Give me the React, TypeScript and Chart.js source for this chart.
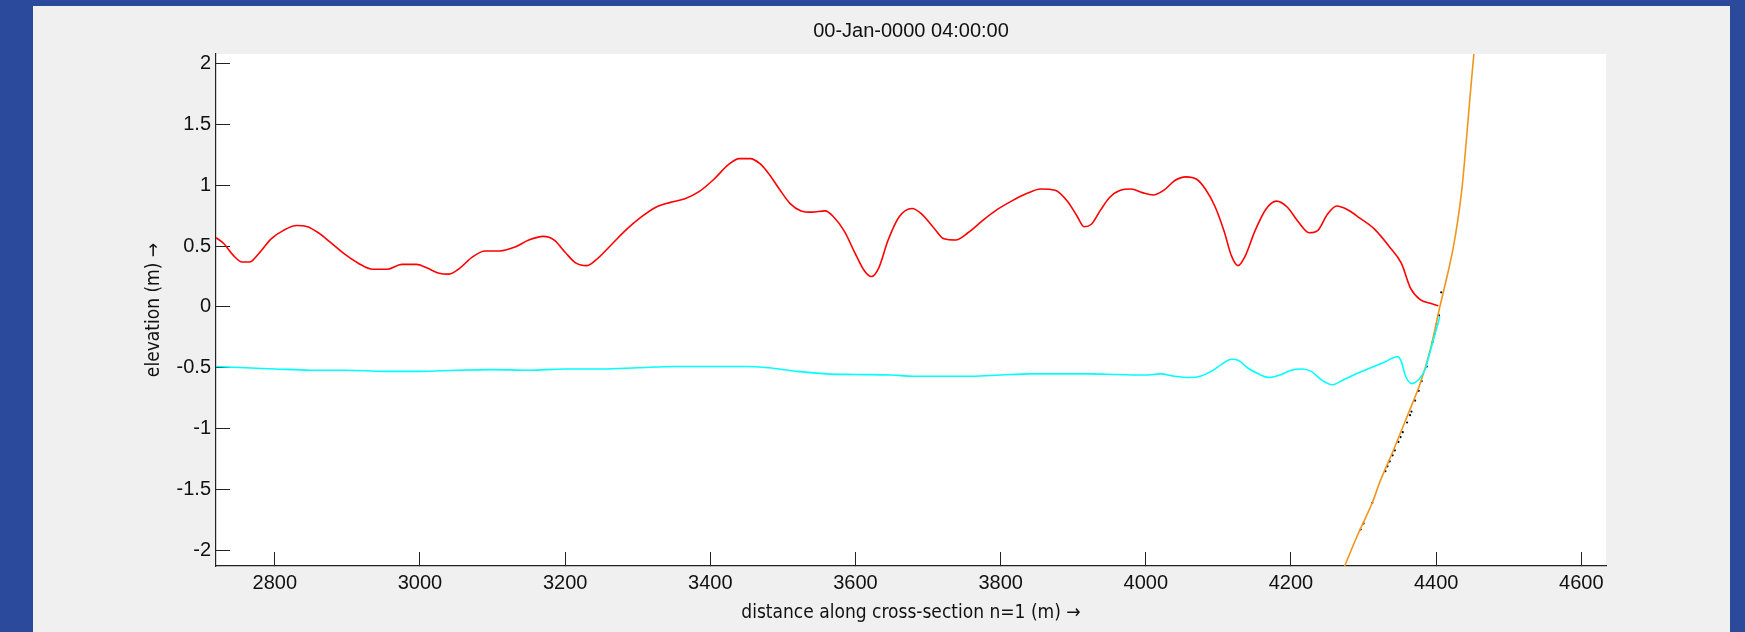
import React, { useEffect, useRef } from "react";
import { Chart, registerables } from "chart.js";

Chart.register(...registerables);

// ---------- data ----------
const TITLE = "00-Jan-0000 04:00:00";
const X_LABEL = "distance along cross-section n=1 (m) \u2192";
const Y_LABEL = "elevation (m) \u2192";

const X_TICKS = [2800, 3000, 3200, 3400, 3600, 3800, 4000, 4200, 4400, 4600];
const Y_TICKS = [-2, -1.5, -1, -0.5, 0, 0.5, 1, 1.5, 2];
const X_MIN = 2719;
const X_MAX = 4634;
const Y_MIN = -2.13;
const Y_MAX = 2.08;

// water level (red)
const RED_X = [
  2719, 2730, 2742, 2755, 2765, 2778, 2795, 2812, 2830, 2845, 2860, 2875, 2895, 2915, 2935, 2955,
  2975, 2995, 3010, 3025, 3040, 3055, 3072, 3090, 3110, 3130, 3150, 3170, 3185, 3200, 3215, 3230,
  3245, 3265, 3285, 3305, 3325, 3345, 3365, 3385, 3405, 3425, 3440, 3455, 3468, 3480, 3495, 3510,
  3525, 3540, 3558, 3570, 3585, 3598, 3612, 3622, 3632, 3645, 3660, 3678, 3692, 3708, 3722, 3738,
  3755, 3775, 3795, 3815, 3835, 3855, 3875, 3892, 3905, 3915, 3925, 3938, 3950, 3965, 3980, 3995,
  4010, 4025, 4040, 4055, 4070, 4082, 4095, 4108, 4118, 4127, 4137, 4150, 4165, 4180, 4195, 4210,
  4225, 4237, 4250, 4263, 4278, 4295, 4315, 4335, 4352, 4365, 4378, 4392, 4403,
];
const RED_Y = [
  0.57, 0.52, 0.43, 0.37, 0.37, 0.44, 0.56, 0.63, 0.67, 0.66, 0.61, 0.54, 0.44, 0.36, 0.31, 0.31,
  0.35, 0.35, 0.32, 0.28, 0.27, 0.32, 0.41, 0.46, 0.46, 0.49, 0.55, 0.58, 0.55, 0.45, 0.36, 0.34,
  0.4, 0.52, 0.64, 0.74, 0.82, 0.86, 0.89, 0.95, 1.05, 1.17, 1.22, 1.22, 1.18, 1.1, 0.97, 0.85,
  0.79, 0.78, 0.79, 0.74, 0.62, 0.46, 0.3, 0.25, 0.32, 0.55, 0.74, 0.81, 0.76, 0.65, 0.56, 0.55,
  0.61, 0.71, 0.8, 0.87, 0.93, 0.97, 0.96, 0.87, 0.75, 0.66, 0.68, 0.8, 0.9, 0.96, 0.97, 0.94,
  0.92, 0.96, 1.04, 1.07, 1.05, 0.97, 0.83, 0.62, 0.42, 0.34, 0.42, 0.62, 0.8, 0.87, 0.82, 0.7,
  0.61, 0.63, 0.76, 0.83, 0.8, 0.73, 0.64, 0.5, 0.36, 0.15, 0.06, 0.03, 0.01,
];

// cyan series
const CYAN_X = [
  2719, 2760, 2800, 2850, 2900, 2950, 3000, 3050, 3100, 3150, 3200, 3250, 3300, 3350, 3400, 3450,
  3480, 3520, 3560, 3600, 3650, 3680, 3720, 3760, 3800, 3840, 3880, 3920, 3960, 4000, 4020, 4040,
  4060, 4075, 4090, 4105, 4118, 4128, 4140, 4155, 4170, 4185, 4200, 4215, 4228, 4242, 4257, 4272,
  4290, 4310, 4330, 4340, 4347, 4352, 4358, 4366, 4377, 4385, 4392, 4400, 4405,
];
const CYAN_Y = [
  -0.49, -0.5, -0.51, -0.52, -0.52, -0.53, -0.53, -0.52, -0.515, -0.52, -0.51, -0.51, -0.5, -0.49,
  -0.49, -0.49, -0.5, -0.53, -0.55, -0.555, -0.56, -0.57, -0.57, -0.57, -0.56, -0.55, -0.55, -0.55,
  -0.555, -0.56, -0.55, -0.57, -0.58, -0.57, -0.53, -0.47, -0.43, -0.44, -0.5, -0.55, -0.58, -0.56,
  -0.52, -0.51, -0.53, -0.6, -0.64, -0.6, -0.55, -0.5, -0.45, -0.42, -0.41, -0.45, -0.57, -0.63,
  -0.59, -0.51, -0.36, -0.19, -0.08,
];

// bed profile (orange)
const BED_X = [4262, 4274, 4290, 4312, 4323, 4341, 4360, 4378, 4392, 4405, 4415, 4423, 4430, 4436, 4442, 4447, 4452, 4456];
const BED_Y = [-2.3, -2.13, -1.9, -1.61, -1.43, -1.18, -0.9, -0.63, -0.35, 0.0, 0.25, 0.47, 0.72, 1.0, 1.4, 1.75, 2.08, 2.3];

// measured points (black)
const MEAS_X = [4296, 4300, 4312, 4330, 4333, 4336, 4340, 4343, 4348, 4351, 4354, 4360, 4364, 4366, 4371, 4376, 4380, 4387, 4395, 4398, 4401, 4404, 4407];
const MEAS_Y = [-1.83, -1.78, -1.61, -1.35, -1.31, -1.27, -1.22, -1.18, -1.11, -1.07, -1.03, -0.95, -0.89, -0.86, -0.77, -0.69, -0.61, -0.49, -0.29, -0.22, -0.14, -0.07, 0.12];

// ---------- styling ----------
const FONT_FAMILY = "'Liberation Sans', Arial, sans-serif";
const TITLE_FAMILY = "'DejaVu Sans Condensed', 'DejaVu Sans', sans-serif";
const FONT_SIZE = 20;
const TEXT_COLOR = "#111111";
const AXIS_COLOR = "#222222";

const toPoints = (xs: number[], ys: number[]) => xs.map((x, i) => ({ x, y: ys[i] }));

const plotBackground = {
  id: "plotBackground",
  beforeDraw(chart: any) {
    const { ctx, chartArea } = chart;
    if (!chartArea) return;
    ctx.save();
    ctx.fillStyle = "#ffffff";
    ctx.fillRect(chartArea.left, chartArea.top, chartArea.right - chartArea.left, chartArea.bottom - chartArea.top);
    ctx.restore();
  },
};

export default function App() {
  const canvasRef = useRef<HTMLCanvasElement | null>(null);

  useEffect(() => {
    const canvas = canvasRef.current;
    if (!canvas) return;
    const chart = new Chart(canvas, {
      type: "line",
      data: {
        datasets: [
          {
            label: "water level",
            data: toPoints(RED_X, RED_Y),
            borderColor: "#ff0000",
            borderWidth: 1.6,
            pointRadius: 0,
            cubicInterpolationMode: "monotone",
          },
          {
            label: "cyan",
            data: toPoints(CYAN_X, CYAN_Y),
            borderColor: "#00ffff",
            borderWidth: 1.6,
            pointRadius: 0,
            cubicInterpolationMode: "monotone",
          },
          {
            label: "bed",
            data: toPoints(BED_X, BED_Y),
            borderColor: "#f0961e",
            borderWidth: 1.6,
            pointRadius: 0,
            tension: 0.3,
          },
          {
            label: "measured",
            data: toPoints(MEAS_X, MEAS_Y),
            showLine: false,
            borderColor: "#000000",
            backgroundColor: "#000000",
            pointRadius: 1.1,
            pointBorderWidth: 0,
          },
        ],
      },
      options: {
        responsive: false,
        animation: false,
        devicePixelRatio: 1,
        layout: { padding: { left: 0, right: 124, top: 0, bottom: 0 } },
        plugins: {
          legend: { display: false },
          tooltip: { enabled: false },
          title: {
            display: true,
            text: TITLE,
            fullSize: false,
            color: TEXT_COLOR,
            font: { family: FONT_FAMILY, size: FONT_SIZE, weight: "normal", lineHeight: 1.2 },
            padding: { top: 13, bottom: 11 },
          },
        },
        scales: {
          x: {
            type: "linear",
            min: X_MIN,
            max: X_MAX,
            afterBuildTicks: (axis: any) => {
              axis.ticks = X_TICKS.map((v) => ({ value: v }));
            },
            afterFit: (axis: any) => {
              axis.height = 66;
            },
            ticks: {
              color: TEXT_COLOR,
              font: { family: FONT_FAMILY, size: FONT_SIZE },
              padding: 19,
              maxRotation: 0,
              autoSkip: false,
              callback: (v: any) => String(v),
            },
            grid: {
              display: true,
              drawOnChartArea: false,
              drawTicks: true,
              tickLength: -14,
              color: AXIS_COLOR,
              lineWidth: 1,
            },
            border: { display: true, color: AXIS_COLOR, width: 1.2 },
            title: {
              display: true,
              text: X_LABEL,
              color: TEXT_COLOR,
              font: { family: TITLE_FAMILY, size: 19, lineHeight: 1.2 },
              padding: { top: 0, bottom: 8 },
            },
          },
          y: {
            type: "linear",
            min: Y_MIN,
            max: Y_MAX,
            afterBuildTicks: (axis: any) => {
              axis.ticks = Y_TICKS.map((v) => ({ value: v }));
            },
            afterFit: (axis: any) => {
              axis.width = 183;
            },
            ticks: {
              color: TEXT_COLOR,
              font: { family: FONT_FAMILY, size: FONT_SIZE },
              padding: 19,
              autoSkip: false,
              callback: (v: any) => String(v),
            },
            grid: {
              display: true,
              drawOnChartArea: false,
              drawTicks: true,
              tickLength: -14,
              color: AXIS_COLOR,
              lineWidth: 1,
            },
            border: { display: true, color: AXIS_COLOR, width: 1.2 },
            title: {
              display: true,
              text: Y_LABEL,
              color: TEXT_COLOR,
              font: { family: TITLE_FAMILY, size: 19, lineHeight: 1.2 },
              padding: { top: 110, bottom: 0 },
            },
          },
        },
      },
      plugins: [plotBackground],
    } as any);
    return () => chart.destroy();
  }, []);

  return (
    <div
      style={{
        position: "fixed",
        left: 0,
        top: 0,
        width: 1745,
        height: 632,
        background: "#2b4a9c",
        overflow: "hidden",
      }}
    >
      <div
        style={{
          position: "absolute",
          left: 33,
          top: 6,
          width: 1697,
          height: 626,
          background: "#f0f0f0",
        }}
      >
        <canvas ref={canvasRef} width={1697} height={626} style={{ display: "block", width: 1697, height: 626 }} />
      </div>
    </div>
  );
}
